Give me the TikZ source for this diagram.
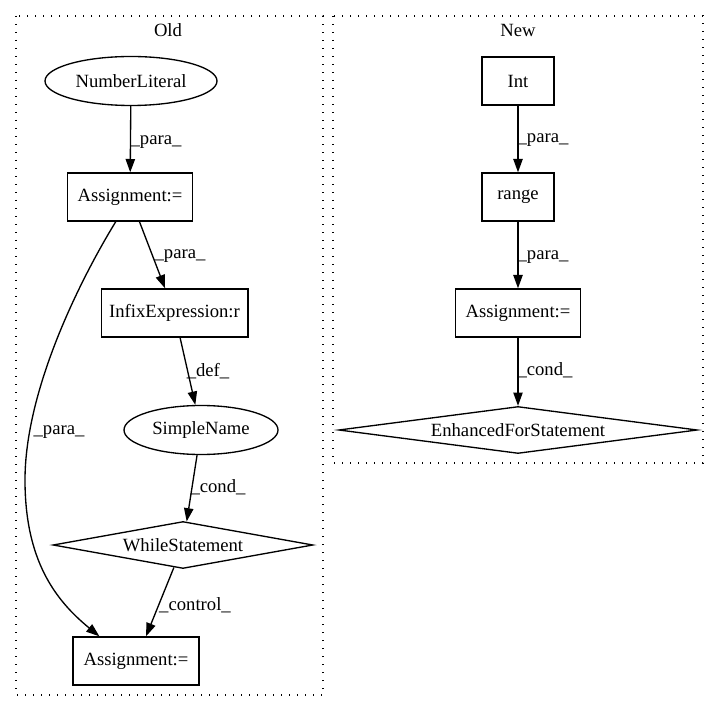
\documentclass[tikz,border=0pt]{standalone}
\usepackage{fontspec}
\setmainfont{Liberation Serif}
\usepackage{tikz}
\usetikzlibrary{shapes.geometric, arrows.meta, positioning, calc}

\begin{document}
\begin{tikzpicture}[
    x=0.75pt, y=-0.75pt,
    every node/.style={font=\fontsize{14}{16}\selectfont},
    box/.style={rectangle, draw, line width=1pt, minimum height=36pt, inner sep=0pt},
    oval/.style={ellipse, draw, line width=1pt, minimum width=#1, minimum height=36.75pt, inner sep=0pt},
    cond/.style={diamond, draw, line width=1pt, minimum height=35.25pt, inner sep=0pt},
    edge/.style={draw, line width=1pt, -{Triangle[length=10pt,width=7pt]}},
    cluster/.style={draw, line width=1pt, dash pattern=on 1pt off 5pt}
]
\useasboundingbox (0,0) rectangle (720,712);

\draw[cluster] (16,16) rectangle (323,695);
\node (oldname) at (168,30) {Old};
\draw[cluster] (333,16) rectangle (703,463);
\node (newname) at (518,30) {New};

\node[oval=129pt] (numlit) at (131,81) {NumberLiteral};
\node[box, minimum width=93.75pt] (asgA) at (130,197) {Assignment:=};
\node[box, minimum width=110pt] (infix) at (174.5,313) {InfixExpression:r};
\node[oval=115.5pt] (simple) at (201,430) {SimpleName};
\node[cond, shape aspect=5.5, minimum width=195pt] (while) at (183,545) {WhileStatement};
\node[box, minimum width=94.5pt] (asgB) at (136,661) {Assignment:=};

\node[box, minimum width=54pt] (int) at (518,81) {Int};
\node[box, minimum width=54pt] (range) at (518,197) {range};
\node[box, minimum width=93.75pt] (asgC) at (518,313) {Assignment:=};
\node[cond, shape aspect=7.6, minimum width=269pt] (enhfor) at (518,430) {EnhancedForStatement};

\draw[edge] (numlit) -- (asgA);
\draw[edge] (asgA) -- (infix);
\draw[edge] (infix) -- (simple);
\draw[edge] (simple) -- (while);
\draw[edge] (while) -- (asgB);
\draw[edge] (asgA.240) .. controls (80,280) and (25,390) .. (25,480)
    .. controls (25,560) and (55,600) .. (asgB.146);

\draw[edge] (int) -- (range);
\draw[edge] (range) -- (asgC);
\draw[edge] (asgC) -- (enhfor);

\node (l1) at (156,142) {\_para\_};
\node (l2) at (180,256) {\_para\_};
\node (l3) at (208,371) {\_def\_};
\node (l4) at (218,487) {\_cond\_};
\node (l5) at (195,605) {\_control\_};
\node (l6) at (59,432) {\_para\_};
\node (l7) at (543,140) {\_para\_};
\node (l8) at (543,257) {\_para\_};
\node (l9) at (545,370) {\_cond\_};
\end{tikzpicture}
\end{document}
